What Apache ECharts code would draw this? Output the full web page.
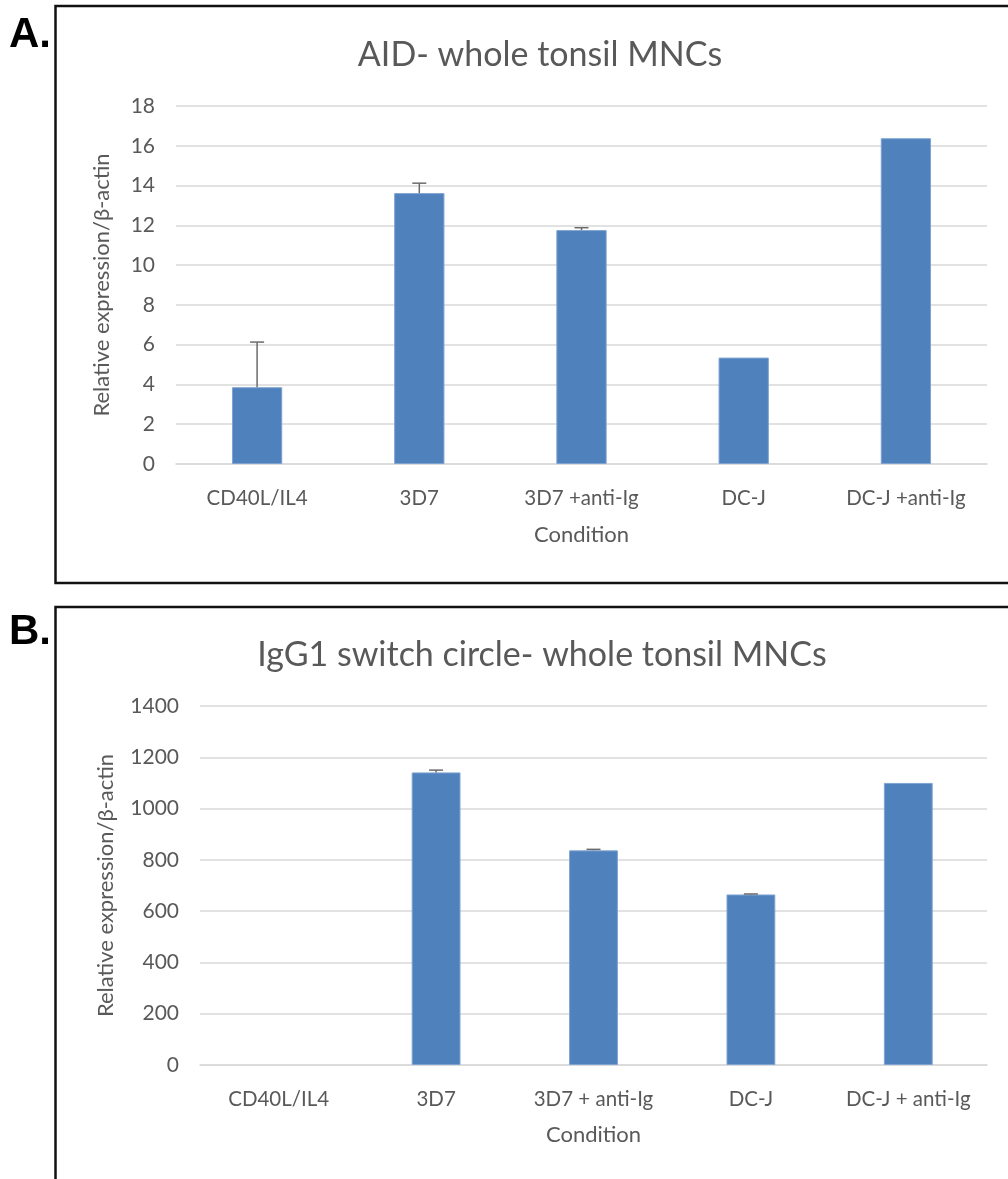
<!DOCTYPE html>
<html>
<head>
<meta charset="utf-8">
<script src="https://cdn.jsdelivr.net/npm/echarts@6/dist/echarts.min.js"></script>
<style>
html,body{margin:0;padding:0;background:#fff;}
#chart{width:1008px;height:1179px;}
</style>
</head>
<body>
<div id="chart"></div>
<script>
// ---- Data ----
const aidCategories = ['CD40L/IL4', '3D7', '3D7 +anti-Ig', 'DC-J', 'DC-J +anti-Ig'];
const aidValues = [3.86, 13.62, 11.76, 5.35, 16.38];
const aidErrUpper = [6.13, 14.12, 11.88, null, null];   // mean + error (upper whisker)
const aidTicks = [0, 2, 4, 6, 8, 10, 12, 14, 16, 18];

const iggCategories = ['CD40L/IL4', '3D7', '3D7 + anti-Ig', 'DC-J', 'DC-J + anti-Ig'];
const iggValues = [0, 1141, 837, 665, 1100];
const iggErrUpper = [null, 1150, 841, 667, null];
const iggTicks = [0, 200, 400, 600, 800, 1000, 1200, 1400];

const titleA = 'AID- whole tonsil MNCs';
const titleB = 'IgG1 switch circle- whole tonsil MNCs';
const yName = 'Relative expression/\u03b2-actin';
const xName = 'Condition';

// ---- Styling ----
const FONT = 'Lato';
const TXT = '#595959';
const BAR = '#4F81BD';
const GRID = '#D9D9D9';

function barData(vals) {
  return vals.map(v => v === 0 ? { value: 0, itemStyle: { borderWidth: 0, opacity: 0 } } : v);
}
function errData(vals, ups) {
  const out = [];
  vals.forEach((v, i) => { if (ups[i] != null) out.push([i, v, ups[i]]); });
  return out;
}
function errRender(params, api) {
  const base = api.coord([api.value(0), api.value(1)]);
  const top = api.coord([api.value(0), api.value(2)]);
  const half = 7;
  const style = { stroke: '#6B6B6B', lineWidth: 1.5 };
  return {
    type: 'group',
    children: [
      { type: 'line', shape: { x1: base[0], y1: base[1], x2: top[0], y2: top[1] }, style: style },
      { type: 'line', shape: { x1: top[0] - half, y1: top[1], x2: top[0] + half, y2: top[1] }, style: style }
    ]
  };
}
function xAxisCfg(idx, cats, gap) {
  return {
    type: 'category', gridIndex: idx, data: cats,
    axisLine: { show: true, lineStyle: { color: GRID, width: 1.5 } },
    axisTick: { show: false },
    axisLabel: { color: TXT, fontFamily: FONT, fontSize: 20.5, margin: 24, interval: 0 },
    name: xName, nameLocation: 'middle', nameGap: gap,
    nameTextStyle: { color: TXT, fontFamily: FONT, fontSize: 22 }
  };
}
function yAxisCfg(idx, ticks, gap) {
  return {
    type: 'value', gridIndex: idx,
    min: ticks[0], max: ticks[ticks.length - 1], interval: ticks[1] - ticks[0],
    axisLine: { show: false }, axisTick: { show: false },
    splitLine: { lineStyle: { color: GRID, width: 1.5 } },
    axisLabel: { color: TXT, fontFamily: FONT, fontSize: 21, margin: 21,
      formatter: v => String(v) },
    name: yName, nameLocation: 'middle', nameGap: gap, nameRotate: 90,
    nameTextStyle: { color: TXT, fontFamily: FONT, fontSize: 22 }
  };
}

const chart = echarts.init(document.getElementById('chart'), null, { renderer: 'canvas' });
chart.setOption({
  backgroundColor: '#fff',
  animation: false,
  title: [
    { text: titleA, left: 535, top: 33, textAlign: 'center',
      textStyle: { color: TXT, fontFamily: FONT, fontSize: 34, fontWeight: 'normal' } },
    { text: titleB, left: 537, top: 633, textAlign: 'center',
      textStyle: { color: TXT, fontFamily: FONT, fontSize: 34, fontWeight: 'normal' } }
  ],
  grid: [
    { left: 176, right: 21, top: 106, bottom: 1179 - 464, containLabel: false },
    { left: 200, right: 21, top: 706, bottom: 1179 - 1065, containLabel: false }
  ],
  xAxis: [xAxisCfg(0, aidCategories, 60), xAxisCfg(1, iggCategories, 59)],
  yAxis: [yAxisCfg(0, aidTicks, 63), yAxisCfg(1, iggTicks, 83)],
  series: [
    { type: 'bar', xAxisIndex: 0, yAxisIndex: 0, data: barData(aidValues), barWidth: '31%',
      itemStyle: { color: BAR, borderColor: '#7FA3D0', borderWidth: 1 } },
    { type: 'custom', xAxisIndex: 0, yAxisIndex: 0, data: errData(aidValues, aidErrUpper),
      renderItem: errRender, encode: { x: 0, y: [1, 2] }, z: 5 },
    { type: 'bar', xAxisIndex: 1, yAxisIndex: 1, data: barData(iggValues), barWidth: '31%',
      itemStyle: { color: BAR, borderColor: '#7FA3D0', borderWidth: 1 } },
    { type: 'custom', xAxisIndex: 1, yAxisIndex: 1, data: errData(iggValues, iggErrUpper),
      renderItem: errRender, encode: { x: 0, y: [1, 2] }, z: 5 }
  ],
  graphic: [
    { type: 'rect', shape: { x: 55.5, y: 6, width: 1000, height: 577 },
      style: { fill: 'none', stroke: '#111', lineWidth: 2.5 }, silent: true },
    { type: 'rect', shape: { x: 55.5, y: 607, width: 1000, height: 700 },
      style: { fill: 'none', stroke: '#111', lineWidth: 2.5 }, silent: true },
    { type: 'text', left: 9, top: 14,
      style: { text: 'A.', font: 'bold 42px "Liberation Sans", Arial, sans-serif', fill: '#000' } },
    { type: 'text', left: 9, top: 611,
      style: { text: 'B.', font: 'bold 42px "Liberation Sans", Arial, sans-serif', fill: '#000' } }
  ]
});
</script>
</body>
</html>
